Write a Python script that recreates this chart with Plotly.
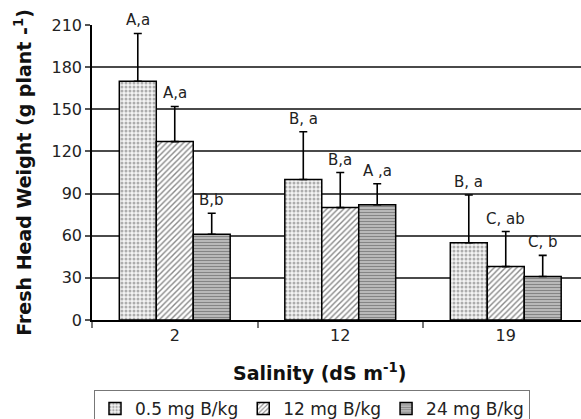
import plotly.graph_objects as go

# ---- data ----
salinity = ["2", "12", "19"]
series_names = ["0.5 mg B/kg", "12 mg B/kg", "24 mg B/kg"]
weight_05 = [170, 100, 55]
weight_12 = [127, 80, 38]
weight_24 = [61, 82, 31]
err_05 = [34, 34, 34]
err_12 = [25, 25, 25]
err_24 = [15, 15, 15]
labels_05 = ["A,a", "B, a", "B, a"]
labels_12 = ["A,a", "B,a", "C, ab"]
labels_24 = ["B,b", "A ,a", "C, b"]
y_ticks = [0, 30, 60, 90, 120, 150, 180, 210]

values = [weight_05, weight_12, weight_24]
errors = [err_05, err_12, err_24]
labels = [labels_05, labels_12, labels_24]

patterns = [
    dict(shape=".", fgcolor="#666666", bgcolor="#f4f4f4", size=4, solidity=0.45),
    dict(shape="/", fgcolor="#111111", bgcolor="white", size=4, solidity=0.35),
    dict(shape="-", fgcolor="#3a3a3a", bgcolor="#cfcfcf", size=3, solidity=0.55),
]

BARGAP = 0.33
xs = list(range(len(salinity)))

fig = go.Figure()
for i in range(3):
    fig.add_trace(go.Bar(
        x=xs, y=values[i], name=series_names[i],
        marker=dict(color="white", pattern=patterns[i],
                    line=dict(color="black", width=1.5)),
        error_y=dict(type="data", array=errors[i], arrayminus=[0] * 3,
                     symmetric=False, color="black", thickness=1.6, width=4),
    ))

# annotations above error bars
bw = (1 - BARGAP) / 3
for i in range(3):
    for k, x in enumerate(xs):
        fig.add_annotation(
            x=x + (i - 1) * bw, y=values[i][k] + errors[i][k],
            text=labels[i][k], showarrow=False, yanchor="bottom",
            yshift=2, font=dict(family="DejaVu Sans", size=15, color="#222"),
        )

# x-axis title (placed as annotation to match the reference's offset)
fig.add_annotation(
    text="<b>Salinity (dS m<sup>-1</sup>)</b>", showarrow=False,
    xref="paper", yref="paper", x=(320 - 92) / 489, y=(320 - 372) / 295,
    xanchor="center", yanchor="middle",
    font=dict(family="DejaVu Sans", size=19, color="#111"),
)

fig.update_layout(
    width=581, height=419,
    margin=dict(l=92, r=0, t=25, b=99),
    paper_bgcolor="white", plot_bgcolor="white",
    barmode="group", bargap=BARGAP, bargroupgap=0,
    font=dict(family="DejaVu Sans", color="#222"),
    showlegend=True,
    legend=dict(
        orientation="h", xref="container", yref="container",
        x=94 / 581, y=1 - 390 / 419, xanchor="left", yanchor="top",
        bordercolor="#777", borderwidth=1, bgcolor="white",
        font=dict(family="DejaVu Sans", size=17, color="#222"),
        itemwidth=30, tracegroupgap=0,
    ),
    xaxis=dict(
        range=[-0.5, -0.5 + 489 / 165.5],
        tickmode="array", tickvals=xs, ticktext=salinity,
        ticks="", showgrid=False, zeroline=False,
        showline=True, linecolor="black", linewidth=1.5,
        tickfont=dict(family="DejaVu Sans", size=16, color="#222"),
        minor=dict(tickmode="array", tickvals=[-0.5, 0.5, 1.5, 2.5],
                   ticks="outside", ticklen=6, tickcolor="#777", tickwidth=1.5,
                   showgrid=False),
    ),
    yaxis=dict(
        range=[0, 210], tickmode="array", tickvals=y_ticks,
        showgrid=True, gridcolor="#4a4a4a", gridwidth=1.5,
        zeroline=False, showline=True, linecolor="black", linewidth=1.5,
        ticks="outside", ticklen=5, tickcolor="#555", tickwidth=1.5,
        tickfont=dict(family="DejaVu Sans", size=16, color="#222"),
        title=dict(text="Fresh Head Weight (g plant -<sup>1</sup>)", standoff=15,
                   font=dict(family="DejaVu Sans", size=19, color="#111",
                             weight="bold")),
    ),
)

fig.write_html("out.html")
